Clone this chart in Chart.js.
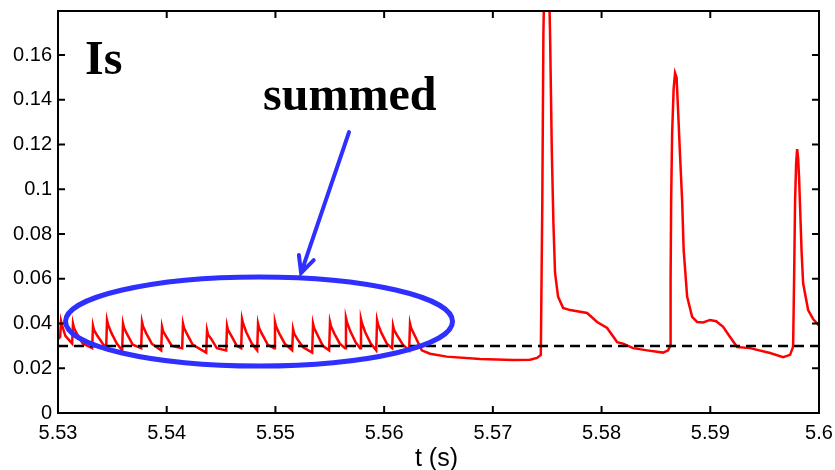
<!DOCTYPE html>
<html lang="en">
  <head>
    <meta charset="UTF-8" />
    <title>Is summed</title>
    <script src="https://cdn.jsdelivr.net/npm/chart.js"></script>
    <style>
      body {
        margin: 0;
        background: #fff;
      }
      canvas {
        display: block;
      }
    </style>
  </head>
  <body>
    <canvas id="isChart" width="835" height="470"></canvas>

    <script>
      // burst of small summed spikes, 5.530 - 5.563 s
      const burstTime = [
        5.53, 5.5302, 5.53028, 5.53038, 5.53068,
        5.5313, 5.53138, 5.53148, 5.53178, 5.53228,
        5.53314, 5.53322, 5.53332, 5.53362, 5.53412,
        5.53443, 5.53451, 5.53461, 5.53491, 5.53541,
        5.5359, 5.53598, 5.53608, 5.53638, 5.53688,
        5.53765, 5.53773, 5.53783, 5.53813, 5.53863,
        5.53949, 5.53957, 5.53967, 5.53997, 5.54047,
        5.54142, 5.5415, 5.5416, 5.5419, 5.5424,
        5.54363, 5.54371, 5.54381, 5.54411, 5.54461,
        5.54547, 5.54555, 5.54565, 5.54595, 5.54645,
        5.54685, 5.54693, 5.54703, 5.54733, 5.54783,
        5.54832, 5.5484, 5.5485, 5.5488, 5.5493,
        5.54988, 5.54996, 5.55006, 5.55036, 5.55086,
        5.55154, 5.55162, 5.55172, 5.55202, 5.55252,
        5.55338, 5.55346, 5.55356, 5.55386, 5.55436,
        5.55494, 5.55502, 5.55512, 5.55542, 5.55592,
        5.55641, 5.55649, 5.55659, 5.55689, 5.55739,
        5.55779, 5.55787, 5.55797, 5.55827, 5.55877,
        5.55927, 5.55935, 5.55945, 5.55975, 5.56025,
        5.56074, 5.56082, 5.56092, 5.56122, 5.56172,
        5.5623, 5.56238, 5.56248, 5.56278,
      ];
      const burstIs = [
        0.033, 0.034, 0.041, 0.039, 0.0345,
        0.031, 0.04, 0.038, 0.035, 0.031,
        0.029, 0.039, 0.037, 0.0345, 0.031,
        0.029, 0.0415, 0.0395, 0.0358, 0.031,
        0.028, 0.04, 0.038, 0.035, 0.0305,
        0.029, 0.0407, 0.0387, 0.0355, 0.031,
        0.028, 0.0385, 0.0365, 0.034, 0.03,
        0.029, 0.04, 0.038, 0.035, 0.0305,
        0.027, 0.037, 0.035, 0.033, 0.029,
        0.028, 0.039, 0.037, 0.0345, 0.03,
        0.029, 0.042, 0.04, 0.036, 0.031,
        0.028, 0.04, 0.038, 0.035, 0.0305,
        0.029, 0.0407, 0.0387, 0.0355, 0.031,
        0.028, 0.0375, 0.0355, 0.033, 0.0295,
        0.027, 0.04, 0.038, 0.035, 0.03,
        0.028, 0.0407, 0.0387, 0.0355, 0.031,
        0.029, 0.0425, 0.0405, 0.0365, 0.0315,
        0.029, 0.042, 0.04, 0.036, 0.031,
        0.028, 0.0415, 0.0395, 0.0358, 0.031,
        0.029, 0.039, 0.037, 0.0345, 0.0305,
        0.028, 0.04, 0.038, 0.035,
      ];

      // decay and the three large single events, 5.563 - 5.600 s
      const eventTime = [
        5.56346, 5.56422, 5.56576, 5.56882, 5.57186, 5.57342, 5.57407, 5.57441,
        5.57455, 5.57465, 5.57476, 5.5749, 5.57508, 5.57526, 5.57542, 5.57557,
        5.57572, 5.576, 5.57646, 5.5771, 5.57867, 5.57959, 5.58051, 5.58143,
        5.58198, 5.5829, 5.58419, 5.58566, 5.58612,
        5.5863, 5.58635, 5.5864, 5.58649, 5.58663, 5.58676, 5.5869, 5.58704,
        5.58722, 5.58741, 5.58755, 5.58787, 5.58833, 5.58879, 5.58934, 5.58998,
        5.59054, 5.59118, 5.59182, 5.59247, 5.59366, 5.5955, 5.5967, 5.59734,
        5.59757,
        5.59762, 5.59771, 5.5978, 5.5979, 5.59799, 5.59808, 5.59817, 5.59826,
        5.5984, 5.59854, 5.599, 5.59946, 5.59983, 5.6,
      ];
      const eventIs = [
        0.028, 0.0265, 0.0252, 0.0241, 0.0237, 0.0238, 0.0246, 0.026,
        0.095, 0.17, 0.2, 0.23, 0.21, 0.17, 0.118, 0.085,
        0.0626, 0.052, 0.047, 0.046, 0.0447, 0.0407, 0.038, 0.0317,
        0.031, 0.029, 0.028, 0.027, 0.028,
        0.03, 0.06, 0.095, 0.125, 0.145, 0.152, 0.15, 0.135,
        0.115, 0.095, 0.073, 0.052, 0.043, 0.0407, 0.0405, 0.0416,
        0.041, 0.0385, 0.034, 0.0295, 0.029, 0.0268, 0.025, 0.026,
        0.029,
        0.03, 0.06, 0.095, 0.112, 0.118, 0.114, 0.105, 0.092,
        0.072, 0.058, 0.046, 0.042, 0.04, 0.039,
      ];

      const baseLevel = 0.03;
      const xTicks = [5.53, 5.54, 5.55, 5.56, 5.57, 5.58, 5.59, 5.6];
      const yTicks = [0, 0.02, 0.04, 0.06, 0.08, 0.1, 0.12, 0.14, 0.16];

      const isPoints = burstTime
        .map((t, i) => ({ x: t, y: burstIs[i] }))
        .concat(eventTime.map((t, i) => ({ x: t, y: eventIs[i] })));

      const blue = "#2f2fff";

      // frame with inward ticks, plus the hand annotations (data coords)
      const framePlugin = {
        id: "frame",
        afterDraw(chart) {
          const { ctx, chartArea: a, scales } = chart;
          const xs = scales.x;
          const ys = scales.y;
          const px = (v) => xs.getPixelForValue(v);
          const py = (v) => ys.getPixelForValue(v);
          ctx.save();

          ctx.strokeStyle = "#000";
          ctx.lineWidth = 2;
          ctx.strokeRect(a.left, a.top, a.right - a.left, a.bottom - a.top);
          ctx.beginPath();
          xTicks.forEach((v) => {
            const x = px(v);
            ctx.moveTo(x, a.bottom);
            ctx.lineTo(x, a.bottom - 7);
            ctx.moveTo(x, a.top);
            ctx.lineTo(x, a.top + 7);
          });
          yTicks.forEach((v) => {
            const y = py(v);
            ctx.moveTo(a.left, y);
            ctx.lineTo(a.left + 7, y);
            ctx.moveTo(a.right, y);
            ctx.lineTo(a.right - 7, y);
          });
          ctx.stroke();

          // axis title
          ctx.fillStyle = "#000";
          ctx.font = "25px 'Liberation Sans', Arial, sans-serif";
          ctx.textAlign = "center";
          ctx.textBaseline = "alphabetic";
          ctx.fillText("t (s)", (a.left + a.right) / 2 - 2, 466);

          // labels
          ctx.font = "bold 48px 'Liberation Serif', 'Times New Roman', serif";
          ctx.textAlign = "left";
          ctx.fillText("Is", px(5.53248), py(0.1515));
          ctx.fillText("summed", px(5.54886), py(0.1354));

          // ellipse around the burst
          ctx.strokeStyle = blue;
          ctx.lineWidth = 5;
          const cx = px(5.54849);
          const cy = py(0.0409);
          const rx = px(5.54849 + 0.0178) - cx;
          const ry = cy - py(0.0409 + 0.0199);
          ctx.beginPath();
          ctx.ellipse(cx, cy, rx, ry, 0, 0, Math.PI * 2);
          ctx.stroke();

          // arrow
          ctx.lineWidth = 4;
          ctx.lineCap = "round";
          const x0 = px(5.55677), y0 = py(0.1256);
          const x1 = px(5.55236), y1 = py(0.0626);
          const ang = Math.atan2(y1 - y0, x1 - x0);
          ctx.beginPath();
          ctx.moveTo(x0, y0);
          ctx.lineTo(x1, y1);
          ctx.moveTo(x1 - 18 * Math.cos(ang - 0.45), y1 - 18 * Math.sin(ang - 0.45));
          ctx.lineTo(x1, y1);
          ctx.lineTo(x1 - 18 * Math.cos(ang + 0.45), y1 - 18 * Math.sin(ang + 0.45));
          ctx.stroke();

          ctx.restore();
        },
      };

      new Chart(document.getElementById("isChart"), {
        type: "line",
        data: {
          datasets: [
            {
              data: [
                { x: xTicks[0], y: baseLevel },
                { x: xTicks[xTicks.length - 1], y: baseLevel },
              ],
              borderColor: "#000",
              borderWidth: 2.5,
              borderDash: [10, 6],
              pointRadius: 0,
              order: 0,
            },
            {
              data: isPoints,
              borderColor: "#ff0000",
              borderWidth: 2.5,
              pointRadius: 0,
              tension: 0,
              order: 1,
            },
          ],
        },
        options: {
          responsive: false,
          animation: false,
          events: [],
          layout: { padding: { top: 11, right: 16, left: 0, bottom: 0 } },
          plugins: {
            legend: { display: false },
            tooltip: { enabled: false },
          },
          scales: {
            x: {
              type: "linear",
              min: 5.53,
              max: 5.6,
              afterFit: (s) => {
                s.height = 57;
                s.paddingLeft = 0;
                s.paddingRight = 0;
              },
              afterBuildTicks: (s) => (s.ticks = xTicks.map((v) => ({ value: v }))),
              grid: { display: false, drawTicks: false },
              border: { display: false },
              ticks: {
                padding: 8,
                color: "#000",
                font: { family: "'Liberation Sans', Arial, sans-serif", size: 20 },
                callback: (v) => String(+v.toFixed(2)),
              },
            },
            y: {
              min: 0,
              max: 0.1797,
              afterFit: (s) => {
                s.width = 58;
                s.paddingTop = 0;
                s.paddingBottom = 0;
              },
              afterBuildTicks: (s) => (s.ticks = yTicks.map((v) => ({ value: v }))),
              grid: { display: false, drawTicks: false },
              border: { display: false },
              ticks: {
                padding: 6,
                color: "#000",
                font: { family: "'Liberation Sans', Arial, sans-serif", size: 20 },
                callback: (v) => String(+v.toFixed(2)),
              },
            },
          },
        },
        plugins: [framePlugin],
      });
    </script>
  </body>
</html>
